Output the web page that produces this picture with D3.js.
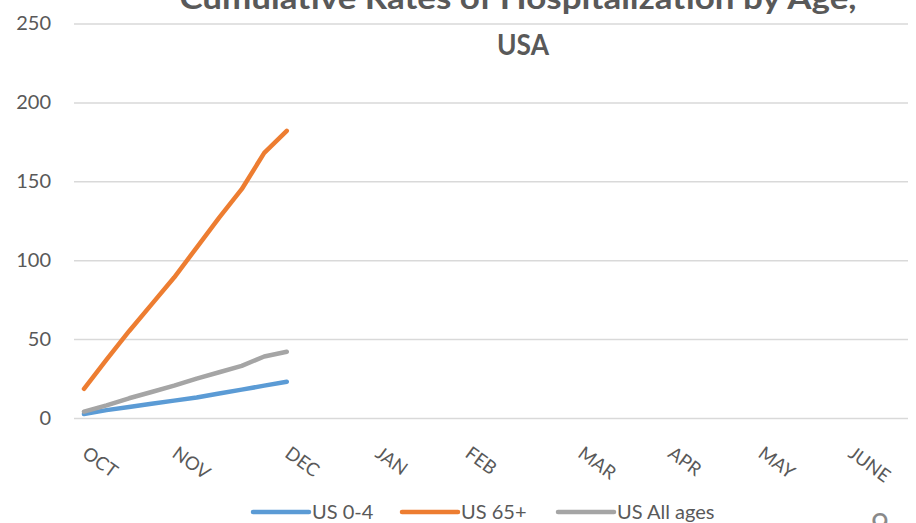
<!DOCTYPE html>
<html><head><meta charset="utf-8">
<script src="https://cdn.jsdelivr.net/npm/d3@7"></script>
<style>
html,body{margin:0;padding:0;background:#fff;overflow:hidden;}
svg{display:block;font-family:Lato,"Open Sans",sans-serif;}
</style></head>
<body><svg id="c" width="916" height="523"></svg>
<script>
// Weekly index (0 = first week of October)
const weeks = [0,1,2,3,4,5,6,7,8,9];
const us04 = [2.5,5,7,9,11,13,15.5,18,20.5,23];
const us65 = [18.5,37,55,72,89,108,127,145,168,182];
const usAll = [4,8,12.5,16.5,20.5,25,29,33,39,42];
const monthLabels = ["OCT","NOV","DEC","JAN","FEB","MAR","APR","MAY","JUNE"];
const monthWeeks = [0,4,9,13,17,22,26,30,34];
const yTicks = [0,50,100,150,200,250];
const seriesNames = ["US 0-4","US 65+","US All ages"];
const seriesColors = ["#5b9bd5","#ed7d31","#a5a5a5"];
const titleLines = ["Cumulative Rates of Hospitalization by Age,","USA"];
const pageNumber = "9";

const svg = d3.select("#c");
const x = d3.scaleLinear().domain([0,34]).range([84,850]);
const y = d3.scaleLinear().domain([0,250]).range([418,23.5]);
const gridLeft = 74, gridRight = 908;

// gridlines + y labels
const ya = svg.append("g").attr("transform",`translate(${gridLeft},0)`)
  .call(d3.axisLeft(y).tickValues(yTicks).tickSize(-(gridRight-gridLeft)).tickPadding(23));
ya.select(".domain").remove();
ya.selectAll(".tick line").attr("stroke","#d9d9d9").attr("stroke-width",1.5);
ya.selectAll(".tick text").attr("fill","#595959").attr("font-size",20).attr("font-family","Lato");

// title
const tg = svg.append("g").attr("fill","#595959").attr("font-weight","bold").attr("text-anchor","middle");
tg.append("text").attr("x",518).attr("y",9).attr("font-size",30)
  .attr("textLength",677).attr("lengthAdjust","spacingAndGlyphs").text(titleLines[0]);
tg.append("text").attr("x",523).attr("y",55).attr("font-size",29)
  .attr("textLength",52).attr("lengthAdjust","spacingAndGlyphs").text(titleLines[1]);

// x labels
const xg = svg.append("g");
monthLabels.forEach((m,i)=>{
  const px = x(monthWeeks[i]) - 3, py = 456;
  xg.append("text").attr("transform",`translate(${px},${py}) rotate(36)`)
    .attr("fill","#595959").attr("font-size",18.5).text(m);
});

// lines
const line = d3.line().x((d,i)=>x(weeks[i])).y(d=>y(d));
[us04,us65,usAll].forEach((s,k)=>{
  svg.append("path").datum(s).attr("d",line).attr("fill","none")
    .attr("stroke",seriesColors[k]).attr("stroke-width",4.5)
    .attr("stroke-linecap","round").attr("stroke-linejoin","round");
});

// legend
const legX = [253,402,558];
const lg = svg.append("g");
seriesNames.forEach((n,k)=>{
  lg.append("line").attr("x1",legX[k]).attr("x2",legX[k]+56).attr("y1",512).attr("y2",512)
    .attr("stroke",seriesColors[k]).attr("stroke-width",4.5).attr("stroke-linecap","round");
  lg.append("text").attr("x",legX[k]+59).attr("y",519).attr("fill","#595959")
    .attr("font-size",20).text(n);
});

// page number (partially cut, as in the reference)
svg.append("text").attr("x",880).attr("y",537).attr("text-anchor","middle")
  .attr("fill","#898989").attr("font-size",32).text(pageNumber);
</script></body></html>
